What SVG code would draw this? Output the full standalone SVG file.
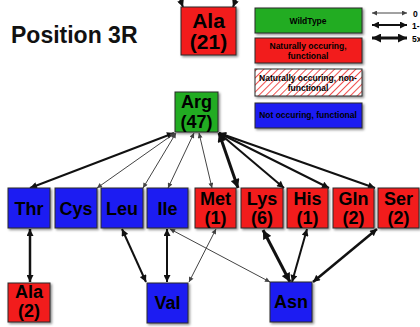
<svg xmlns="http://www.w3.org/2000/svg" width="420" height="327" viewBox="0 0 420 327">
<defs>
<filter id="sh" x="-20%" y="-20%" width="150%" height="150%">
<feDropShadow dx="1.5" dy="1.5" stdDeviation="1" flood-color="#000" flood-opacity="0.45"/>
</filter>
<pattern id="hatch" width="5" height="5" patternUnits="userSpaceOnUse" patternTransform="rotate(45)">
<rect width="5" height="5" fill="#fff"/>
<line x1="0" y1="0" x2="0" y2="5" stroke="#f05050" stroke-width="2"/>
</pattern>
<marker id="a1" viewBox="0 0 10 10" refX="10" refY="5" markerWidth="7" markerHeight="5" markerUnits="userSpaceOnUse" orient="auto-start-reverse"><path d="M0,0 L10,5 L0,10 z" fill="#444"/></marker>
<marker id="a2" viewBox="0 0 10 10" refX="10" refY="5" markerWidth="9" markerHeight="7" markerUnits="userSpaceOnUse" orient="auto-start-reverse"><path d="M0,0 L10,5 L0,10 z" fill="#111"/></marker>
<marker id="a3" viewBox="0 0 10 10" refX="10" refY="5" markerWidth="11" markerHeight="9" markerUnits="userSpaceOnUse" orient="auto-start-reverse"><path d="M0,0 L10,5 L0,10 z" fill="#111"/></marker>
</defs>
<style>
.box{stroke:#2a2a2a;stroke-width:1;filter:url(#sh)}
.red{fill:#f21c1c}.green{fill:#22ac22}.blue{fill:#1e1ef2}
.lbl{font-family:"Liberation Sans",Arial,sans-serif;font-weight:bold;font-size:18px;fill:#000;text-anchor:middle}
.big{font-size:21px}
.leg{font-family:"Liberation Sans",Arial,sans-serif;font-weight:bold;font-size:8.5px;fill:#000;text-anchor:middle}
.c1{stroke:#444;stroke-width:1;fill:none;marker-start:url(#a1);marker-end:url(#a1)}
.c2{stroke:#111;stroke-width:2;fill:none;marker-start:url(#a2);marker-end:url(#a2)}
.c3{stroke:#111;stroke-width:3;fill:none;marker-start:url(#a3);marker-end:url(#a3)}
</style>
<rect width="420" height="327" fill="#fff"/>
<text x="11" y="43" font-family="Liberation Sans,Arial,sans-serif" font-weight="bold" font-size="23" fill="#111">Position 3R</text>

<g id="legend">
<rect class="box green" x="255" y="8" width="107" height="25"/>
<text class="leg" x="308" y="24">WildType</text>
<rect class="box red" x="255" y="38" width="107" height="25"/>
<text class="leg" x="308" y="49">Naturally occuring,</text>
<text class="leg" x="308" y="59">functional</text>
<rect class="box" x="255" y="69" width="107" height="27" fill="url(#hatch)"/>
<text class="leg" x="308" y="81">Naturally occuring, non-</text>
<text class="leg" x="308" y="91">functional</text>
<rect class="box blue" x="255" y="103" width="107" height="25"/>
<text class="leg" x="308" y="118">Not occuring, functional</text>
<line x1="372" y1="13" x2="407" y2="13" class="c1"/>
<line x1="372" y1="25" x2="407" y2="25" class="c2"/>
<line x1="372" y1="38" x2="407" y2="38" class="c3"/>
<text class="leg" x="413" y="17" text-anchor="start" style="text-anchor:start">0</text>
<text class="leg" x="412" y="29" style="text-anchor:start">1-</text>
<text class="leg" x="412" y="42" style="text-anchor:start">5x</text>
</g>

<g id="connectors">
<line x1="178" y1="-6" x2="183" y2="7" stroke="#111" stroke-width="2" marker-end="url(#a2)"/>
<line x1="238" y1="-6" x2="233" y2="7" stroke="#111" stroke-width="2" marker-end="url(#a2)"/>
<line class="c2" x1="174" y1="133" x2="30" y2="188"/>
<line class="c1" x1="175" y1="133" x2="97" y2="188"/>
<line class="c1" x1="176" y1="133" x2="143" y2="188"/>
<line class="c1" x1="194" y1="133" x2="168" y2="188"/>
<line class="c1" x1="199" y1="133" x2="212" y2="188"/>
<line class="c3" x1="219" y1="133" x2="238" y2="188"/>
<line class="c2" x1="219" y1="133" x2="284" y2="188"/>
<line class="c2" x1="219" y1="133" x2="329" y2="188"/>
<line class="c2" x1="219" y1="133" x2="375" y2="188"/>
<line class="c2" x1="30" y1="229" x2="30" y2="282" style="stroke-width:2.5"/>
<line class="c2" x1="122" y1="229" x2="146" y2="282"/>
<line class="c2" x1="167" y1="229" x2="167" y2="282"/>
<line class="c1" x1="170" y1="229" x2="270" y2="282"/>
<line class="c1" x1="216" y1="229" x2="189" y2="282"/>
<line class="c3" x1="263" y1="230" x2="290" y2="282"/>
<line class="c2" x1="307" y1="229" x2="292" y2="282"/>
<line class="c2" x1="377" y1="229" x2="313" y2="282" style="stroke-width:2.5"/>
</g>

<g id="ala21"><rect class="box red" x="181" y="7" width="55" height="48"/><text class="lbl big" x="208.5" y="28">Ala</text><text class="lbl big" x="208.5" y="49">(21)</text></g>
<g id="arg"><rect class="box green" x="175" y="92" width="43" height="40"/><text class="lbl" x="196.5" y="108">Arg</text><text class="lbl" x="196.5" y="128">(47)</text></g>

<g id="thr"><rect class="box blue" x="8" y="188" width="42" height="40"/><text class="lbl" x="29" y="215">Thr</text></g>
<g id="cys"><rect class="box blue" x="55" y="188" width="42" height="40"/><text class="lbl" x="76" y="215">Cys</text></g>
<g id="leu"><rect class="box blue" x="101" y="188" width="42" height="40"/><text class="lbl" x="122" y="215">Leu</text></g>
<g id="ile"><rect class="box blue" x="147" y="188" width="41" height="40"/><text class="lbl" x="167.5" y="215">Ile</text></g>
<g id="met"><rect class="box red" x="195" y="188" width="41" height="40"/><text class="lbl" x="215.5" y="205">Met</text><text class="lbl" x="215.5" y="224">(1)</text></g>
<g id="lys"><rect class="box red" x="241" y="188" width="42" height="40"/><text class="lbl" x="262" y="205">Lys</text><text class="lbl" x="262" y="224">(6)</text></g>
<g id="his"><rect class="box red" x="287" y="188" width="41" height="40"/><text class="lbl" x="307.5" y="205">His</text><text class="lbl" x="307.5" y="224">(1)</text></g>
<g id="gln"><rect class="box red" x="333" y="188" width="41" height="40"/><text class="lbl" x="353.5" y="205">Gln</text><text class="lbl" x="353.5" y="224">(2)</text></g>
<g id="ser"><rect class="box red" x="378" y="188" width="41" height="40"/><text class="lbl" x="398.5" y="205">Ser</text><text class="lbl" x="398.5" y="224">(2)</text></g>

<g id="ala2"><rect class="box red" x="8" y="283" width="42" height="39"/><text class="lbl" x="29" y="298">Ala</text><text class="lbl" x="29" y="317">(2)</text></g>
<g id="val"><rect class="box blue" x="147" y="283" width="41" height="40"/><text class="lbl" x="167.5" y="309">Val</text></g>
<g id="asn"><rect class="box blue" x="270" y="282" width="42" height="40"/><text class="lbl" x="291" y="308">Asn</text></g>
</svg>
